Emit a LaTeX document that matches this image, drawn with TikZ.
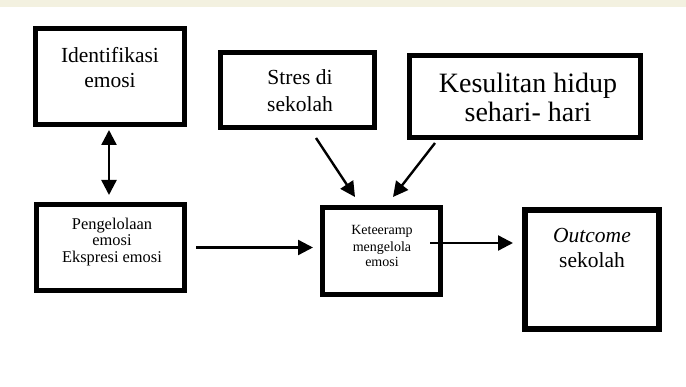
\documentclass[tikz,border=0pt]{standalone}
\usepackage{fontspec}
\setmainfont{Liberation Serif}
\usetikzlibrary{arrows.meta,calc}
\definecolor{band}{RGB}{243,241,224}
\tikzset{
  box/.style={draw=black, line width=5pt, inner sep=0pt, rectangle},
  txt/.style={anchor=base, inner sep=0pt},
  arr/.style={line width=2.4pt, -{Triangle[length=15pt,width=15pt]}},
  darr/.style={line width=2.4pt, {Triangle[length=15pt,width=15pt]}-{Triangle[length=15pt,width=15pt]}},
}
\begin{document}
\begin{tikzpicture}[x=1pt,y=-1pt]
\useasboundingbox (0,0) rectangle (686,387);
\fill[white] (0,0) rectangle (686,387);
\fill[band] (0,0) rectangle (686,7);

% boxes
\node[box, minimum width=149pt, minimum height=96pt] (ident) at (110,76.5) {};
\node[box, minimum width=154pt, minimum height=75pt] (stres) at (297.5,90) {};
\node[box, minimum width=231pt, minimum height=82pt] (kes) at (525,96.5) {};
\node[box, minimum width=148pt, minimum height=86pt] (peng) at (110.5,247.5) {};
\node[box, minimum width=118pt, minimum height=87pt] (ket) at (381.5,251) {};
\node[box, line width=6pt, minimum width=134pt, minimum height=119pt] (out) at (592,269.5) {};

% texts
\begin{scope}[every node/.append style={font=\fontsize{21.5}{25}\selectfont}]
\node[txt] (identA) at (110,63) {Identifikasi};
\node[txt] (identB) at (110,88) {emosi};
\node[txt] (stresA) at (300,85) {Stres di};
\node[txt] (stresB) at (300,112) {sekolah};
\node[txt] (outA) at (592,243) {\itshape Outcome};
\node[txt] (outB) at (592,268) {sekolah};
\end{scope}
\node[txt, font=\fontsize{28}{32}\selectfont] (kesA) at (528,93) {Kesulitan hidup};
\node[txt, font=\fontsize{28}{32}\selectfont] (kesB) at (528,122) {sehari- hari};
\begin{scope}[every node/.append style={font=\fontsize{16.4}{18}\selectfont}]
\node[txt] (pengA) at (112,230) {Pengelolaan};
\node[txt] (pengB) at (112,246) {emosi};
\node[txt] (pengC) at (112,263) {Ekspresi emosi};
\end{scope}
\begin{scope}[every node/.append style={font=\fontsize{14}{16}\selectfont}]
\node[txt] (ketA) at (382,235) {Keteeramp};
\node[txt] (ketB) at (382,252) {mengelola};
\node[txt] (ketC) at (382,267) {emosi};
\end{scope}

% connectors
\draw[darr] ($(ident.south)+(-1,3)$) -- ($(peng.north)+(-1.5,-7)$);
\draw[arr] ($(stres.south)+(18.5,8)$) -- ($(ket.north)+(-26.5,-8)$);
\draw[arr] ($(kes.south)+(-90,3)$) -- ($(ket.north)+(11.5,-8)$);
\draw[arr] ($(peng.east)+(9,0)$) -- ($(peng.east -| ket.west)+(-7,0)$);
\draw[arr] ($(ket.east)+(-13,-8)$) -- ($(out.west)+(-9,-26.5)$);
\end{tikzpicture}
\end{document}
